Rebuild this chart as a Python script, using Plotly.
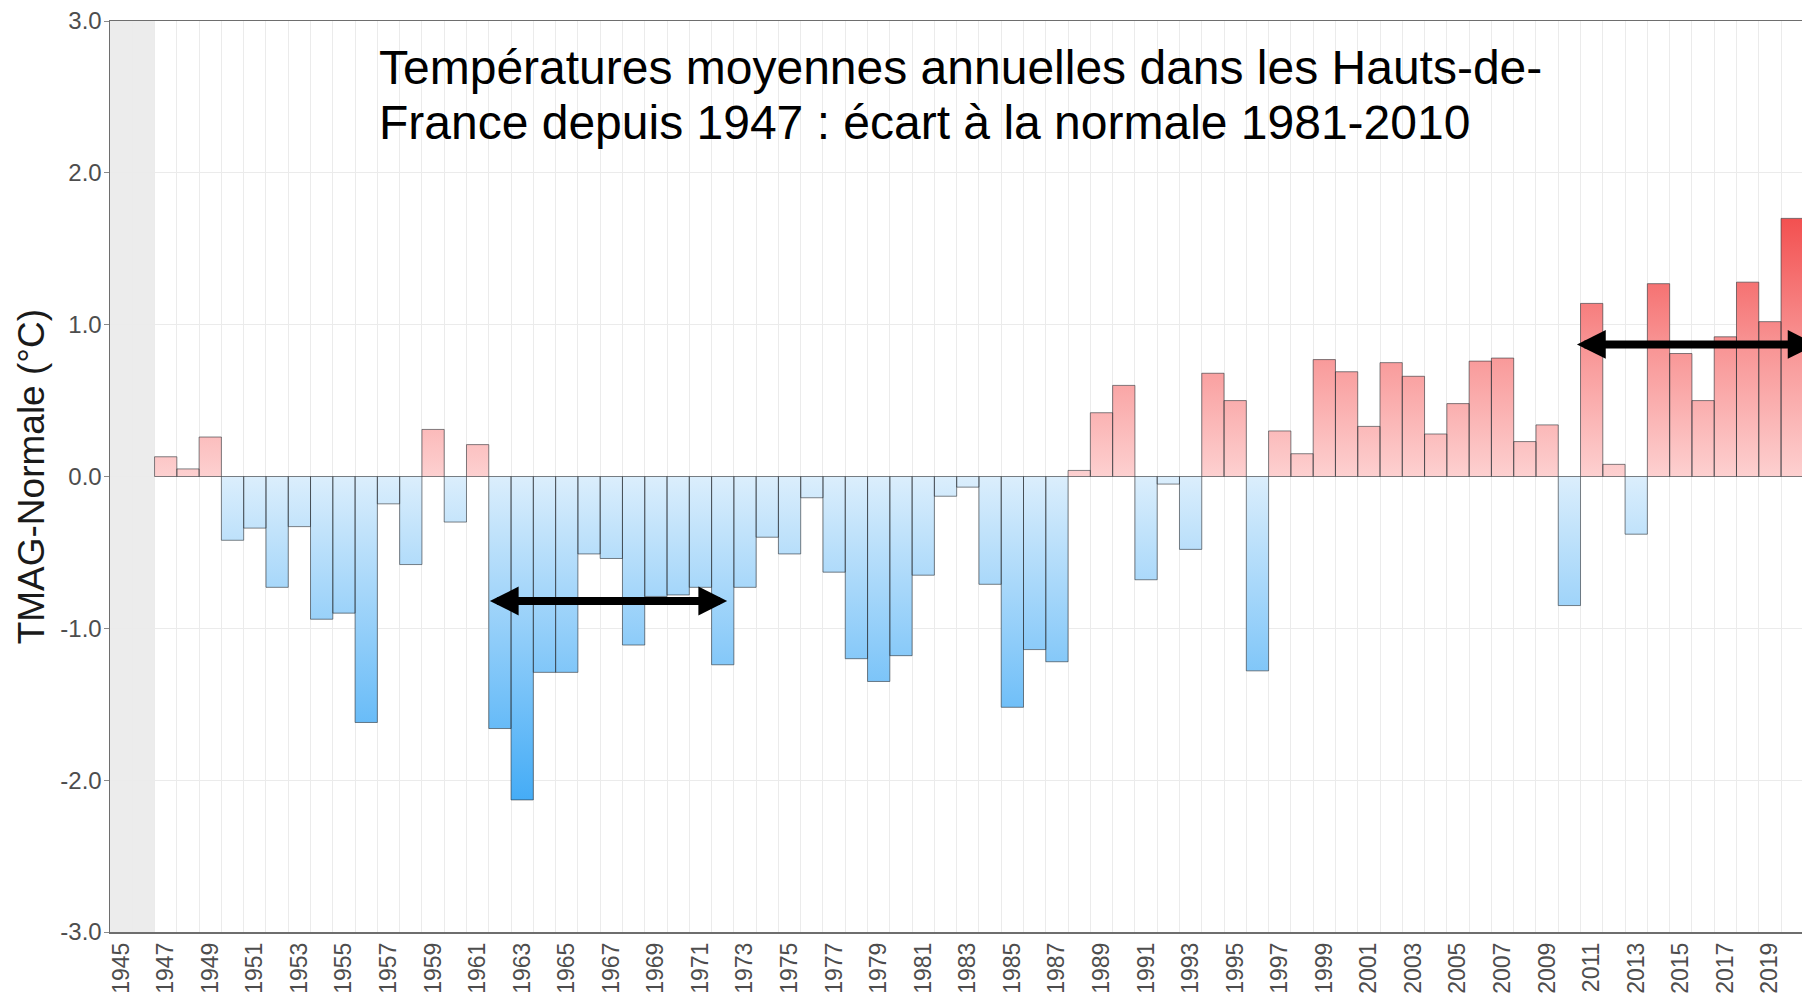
import plotly.graph_objects as go

# ---------------- data ----------------
years = list(range(1947, 2021))
anomalies = [
    0.13, 0.05, 0.26, -0.42, -0.34, -0.73, -0.33, -0.94, -0.90, -1.62,   # 1947-1956
    -0.18, -0.58, 0.31, -0.30, 0.21, -1.66, -2.13, -1.29, -1.29, -0.51,  # 1957-1966
    -0.54, -1.11, -0.79, -0.78, -0.73, -1.24, -0.73, -0.40, -0.51, -0.14, # 1967-1976
    -0.63, -1.20, -1.35, -1.18, -0.65, -0.13, -0.07, -0.71, -1.52, -1.14, # 1977-1986
    -1.22, 0.04, 0.42, 0.60, -0.68, -0.05, -0.48, 0.68, 0.50, -1.28,      # 1987-1996
    0.30, 0.15, 0.77, 0.69, 0.33, 0.75, 0.66, 0.28, 0.48, 0.76,           # 1997-2006
    0.78, 0.23, 0.34, -0.85, 1.14, 0.08, -0.38, 1.27, 0.81, 0.50,         # 2007-2016
    0.92, 1.28, 1.02, 1.70,                                               # 2017-2020
]
tick_years = list(range(1945, 2021, 2))
y_tickvals = [-3, -2, -1, 0, 1, 2, 3]
y_ticktext = ["-3.0", "-2.0", "-1.0", "0.0", "1.0", "2.0", "3.0"]
nodata_years = [1945, 1946]

# period arrows (start year, end year) and their level
arrow_periods = [(1961.48, 1972.2), (2010.34, 2021.16)]
arrow_levels = [-0.82, 0.87]

title_lines = [
    "Températures moyennes annuelles dans les Hauts-de-",
    "France depuis 1947 : écart à la normale 1981-2010",
]
y_title = "TMAG-Normale (°C)"

FONT = "Liberation Sans, Arial, sans-serif"

# ---------------- figure ----------------
fig = go.Figure()


def polygons(sign):
    xs, ys = [], []
    for yr, v in zip(years, anomalies):
        if (v >= 0) == (sign > 0):
            xs += [yr - 0.5, yr - 0.5, yr + 0.5, yr + 0.5, yr - 0.5, None]
            ys += [0, v, v, 0, 0, None]
    return xs, ys


# gradient fills (colour depends on value)
xs, ys = polygons(-1)
fig.add_trace(go.Scatter(
    x=xs, y=ys, mode="none", fill="toself", hoverinfo="skip",
    fillgradient=dict(type="vertical",
                      colorscale=[[0, "#dbeefc"], [1, "#40aaf6"]],
                      start=0, stop=-2.2),
    showlegend=False,
))
xs, ys = polygons(1)
fig.add_trace(go.Scatter(
    x=xs, y=ys, mode="none", fill="toself", hoverinfo="skip",
    fillgradient=dict(type="vertical",
                      colorscale=[[0, "#fdd0d0"], [0.5, "#f89393"], [1, "#f24c4c"]],
                      start=0, stop=1.75),
    showlegend=False,
))

# bar outlines on an overlaid axis so they sit above the fills
fig.add_trace(go.Bar(
    x=years, y=anomalies, width=1, yaxis="y2",
    marker=dict(color="rgba(0,0,0,0)",
                line=dict(color="rgba(45,50,55,0.6)", width=1)),
    showlegend=False, hoverinfo="skip",
))

# grey "no data" band
fig.add_shape(type="rect", xref="x", yref="y",
              x0=nodata_years[0] - 0.5, x1=nodata_years[-1] + 0.5, y0=-3, y1=3,
              fillcolor="#ececec", line=dict(width=0), layer="below")

annotations = []
# title text box
for line, ypos in zip(title_lines, [0.949, 0.889]):
    annotations.append(dict(
        text=line, xref="paper", yref="paper", x=0.158, y=ypos,
        xanchor="left", yanchor="middle", showarrow=False,
        font=dict(family=FONT, size=48, color="#000000"),
    ))
# y axis title
annotations.append(dict(
    text=y_title, xref="paper", yref="paper", x=-0.0462, y=0.5,
    xanchor="center", yanchor="middle", textangle=-90, showarrow=False,
    font=dict(family=FONT, size=37, color="#1a1a1a"),
))
# double arrows
arrow_specs = [
    dict(x=arrow_periods[0][1], ax=arrow_periods[0][0], lvl=arrow_levels[0]),
    dict(x=arrow_periods[1][0], ax=arrow_periods[1][1], lvl=arrow_levels[1]),
]
for a in arrow_specs:
    annotations.append(dict(
        x=a["x"], y=a["lvl"], ax=a["ax"], ay=a["lvl"],
        xref="x", yref="y", axref="x", ayref="y", text="",
        showarrow=True, arrowside="end+start",
        arrowhead=2, startarrowhead=2, arrowsize=0.72, startarrowsize=0.72,
        arrowwidth=8, arrowcolor="#000000", standoff=0, startstandoff=0,
    ))

fig.update_layout(
    width=1802, height=993, autosize=False,
    margin=dict(l=110, r=0, t=21, b=61, pad=0),
    paper_bgcolor="white", plot_bgcolor="white",
    bargap=0, barmode="overlay", hovermode=False,
    showlegend=False,
    annotations=annotations,
    xaxis=dict(
        range=[1944.5, 2020.44], automargin=False,
        tickmode="array", tickvals=tick_years, ticktext=[str(t) for t in tick_years],
        tickangle=-90, tickfont=dict(family=FONT, size=23, color="#4d4d4d"),
        ticks="", showgrid=False, zeroline=False,
        minor=dict(tickmode="linear", tick0=1944.5, dtick=1, showgrid=True,
                   gridcolor="#ebebeb", gridwidth=1, ticks=""),
        showline=True, linecolor="#6e6e6e", linewidth=1.5, mirror=True,
    ),
    yaxis=dict(
        range=[-3, 3], automargin=False,
        tickmode="array", tickvals=y_tickvals, ticktext=y_ticktext,
        tickfont=dict(family=FONT, size=24, color="#4d4d4d"),
        ticks="outside", ticklen=5, tickcolor="#8a8a8a", tickwidth=1,
        ticklabelstandoff=-3,
        showgrid=True, gridcolor="#ebebeb", gridwidth=1, zeroline=False,
        showline=True, linecolor="#6e6e6e", linewidth=1.5,
    ),
    yaxis2=dict(range=[-3, 3], overlaying="y", visible=False, showgrid=False,
                zeroline=False),
)

# remove the default 8px page margin so the figure fills the window exactly
fig.write_html("out.html",
               config={"displayModeBar": False, "staticPlot": True},
               post_script="document.body.style.margin='0';document.body.style.overflow='hidden';")
